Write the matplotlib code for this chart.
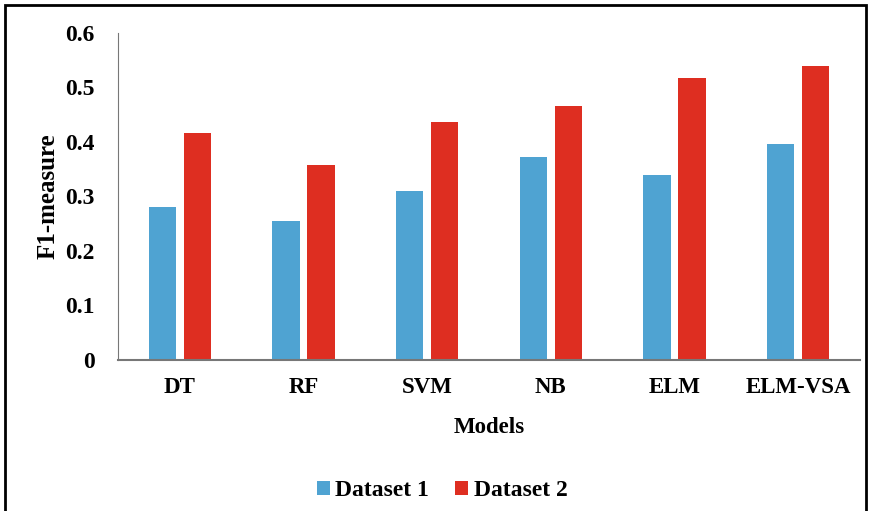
import numpy as np
import matplotlib
matplotlib.use('Agg')
import matplotlib.pyplot as plt
from matplotlib.patches import Rectangle

modelos = ['DT', 'RF', 'SVM', 'NB', 'ELM', 'ELM-VSA']
dataset1 = [0.281, 0.255, 0.310, 0.372, 0.339, 0.396]
dataset2 = [0.417, 0.358, 0.437, 0.466, 0.517, 0.539]
yticks = [0, 0.1, 0.2, 0.3, 0.4, 0.5, 0.6]
ytick_labels = ['0', '0.1', '0.2', '0.3', '0.4', '0.5', '0.6']

azul = '#4fa3d2'
rojo = '#de2e21'

plt.rcParams['font.family'] = ['Liberation Serif', 'DejaVu Serif']
plt.rcParams['font.weight'] = 'bold'

fig = plt.figure(figsize=(8.69, 5.11), dpi=100)
ax = fig.add_axes([0.1358, 0.2955, 0.8538, 0.64])

indice = np.arange(len(modelos))
ancho = 0.22
sep = 0.142

ax.bar(indice - sep, dataset1, width=ancho, color=azul, label='Dataset 1')
ax.bar(indice + sep, dataset2, width=ancho, color=rojo, label='Dataset 2')

ax.set_xlim(-0.5, len(modelos) - 0.5)
ax.set_ylim(0, 0.6)
ax.set_yticks(yticks)
ax.set_yticklabels(ytick_labels, fontsize=17, fontweight='bold')
ax.set_xticks(indice)
ax.set_xticklabels(modelos, fontsize=16.5, fontweight='bold')
ax.tick_params(axis='both', length=0)
ax.tick_params(axis='y', pad=17)
ax.tick_params(axis='x', pad=12)

for lado in ['top', 'right']:
    ax.spines[lado].set_visible(False)
ax.spines['left'].set_color('#777777')
ax.spines['bottom'].set_color('#777777')
ax.spines['bottom'].set_linewidth(1.5)

ax.set_xlabel('Models', fontsize=16.5, fontweight='bold', labelpad=14)
ax.set_ylabel('F1-measure', fontsize=18, fontweight='bold', labelpad=4)

ax.legend(loc='center', bbox_to_anchor=(0.437, -0.40), ncol=2, frameon=False,
          prop={'size': 17, 'weight': 'bold'}, handlelength=0.55, handleheight=0.55,
          handletextpad=0.25, columnspacing=1.1)

# marco negro alrededor de la figura
fig.patches.append(Rectangle((0.006, -0.05), 0.99, 1.04, transform=fig.transFigure,
                             fill=False, edgecolor='black', linewidth=2))

fig.savefig('out.png', dpi=100)
